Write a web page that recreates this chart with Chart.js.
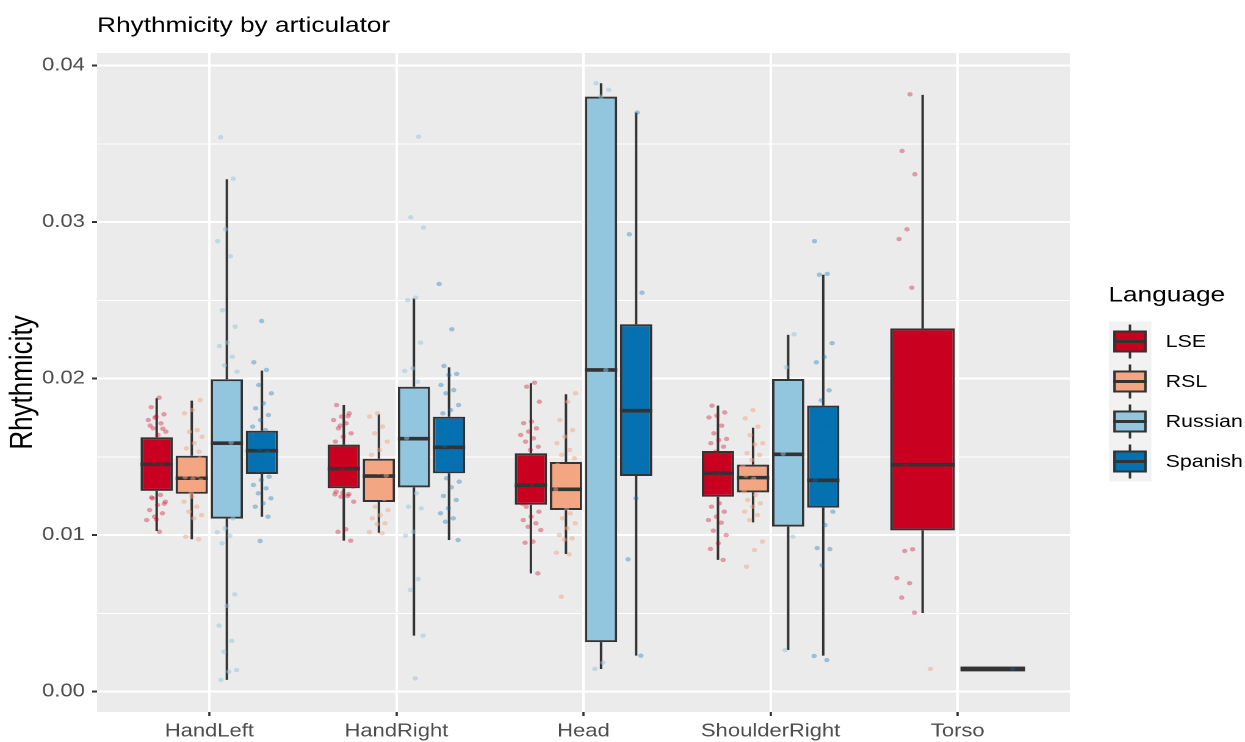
<!DOCTYPE html>
<html>
<head>
<meta charset="utf-8">
<script src="https://cdn.jsdelivr.net/npm/chart.js@4.4.1/dist/chart.umd.min.js"></script>
<style>
  html, body { margin: 0; padding: 0; background: #ffffff; }
  #plot { display: block; }
</style>
</head>
<body>
<canvas id="plot" width="1020" height="742" style="width:1245px;height:742px"></canvas>
<script>
// Articulators on the x axis and the four sign/spoken languages
const categories = ['HandLeft', 'HandRight', 'Head', 'ShoulderRight', 'Torso'];
const languages = ['LSE', 'RSL', 'Russian', 'Spanish'];
const fillColors = ['#CA0020', '#F4A582', '#92C5DE', '#0571B0'];
const pointColors = ['rgba(202,0,32,0.35)', 'rgba(244,165,130,0.5)', 'rgba(146,197,222,0.5)', 'rgba(5,113,176,0.35)'];

// Box statistics, one row per language, one column per articulator
const lowerWhisker = [
  [0.01026, 0.00964, 0.00755, 0.00841, 0.00502],
  [0.00973, 0.01015, 0.00879, 0.01081, null],
  [0.00074, 0.00357, 0.00144, 0.00265, null],
  [0.01117, 0.00968, 0.00229, 0.00229, 0.00144]
];
const lowerQuartile = [
  [0.01282, 0.01299, 0.01194, 0.01245, 0.01030],
  [0.01264, 0.01211, 0.01160, 0.01273, null],
  [0.01105, 0.01305, 0.00316, 0.01054, null],
  [0.01390, 0.01395, 0.01377, 0.01175, 0.00144]
];
const medians = [
  [0.01452, 0.01424, 0.01318, 0.01395, 0.01450],
  [0.01363, 0.01377, 0.01292, 0.01367, null],
  [0.01587, 0.01616, 0.02055, 0.01516, null],
  [0.01539, 0.01561, 0.01795, 0.01350, 0.00144]
];
const upperQuartile = [
  [0.01625, 0.01578, 0.01523, 0.01537, 0.02321],
  [0.01507, 0.01488, 0.01467, 0.01450, null],
  [0.01996, 0.01948, 0.03802, 0.01997, null],
  [0.01667, 0.01756, 0.02347, 0.01827, 0.00144]
];
const upperWhisker = [
  [0.01874, 0.01831, 0.01970, 0.01827, 0.03813],
  [0.01859, 0.01772, 0.01900, 0.01686, null],
  [0.03274, 0.02513, 0.03888, 0.02279, null],
  [0.02051, 0.02072, 0.03700, 0.02664, 0.00144]
];

// Individual observations (jittered dots), per articulator
const lsePoints = [
  [0.01878,0.01817,0.01772,0.01757,0.01735,0.01714,0.01682,0.01661,0.0164,0.0170,0.0168,0.0175,
   0.0130,0.0133,0.0136,0.0139,0.0141,0.0143,0.0145,0.0146,0.0148,0.0150,0.0152,0.0155,0.0158,0.0160,
   0.01256,0.01235,0.01213,0.01192,0.0116,0.01139,0.01117,0.01096,0.01021,0.0124,0.0120,0.0110],
  [0.01831,0.01778,0.01757,0.01735,0.01714,0.01682,0.0165,0.01629,0.01597,0.0176,0.0170,
   0.0131,0.0134,0.0137,0.0140,0.0142,0.0144,0.0146,0.0149,0.0152,0.0155,
   0.01277,0.01262,0.01245,0.01213,0.01037,0.01021,0.00964,0.0127,0.0126,0.0125],
  [0.01974,0.01948,0.01852,0.01725,0.01715,0.01682,0.01661,0.0164,0.01618,0.01597,0.01565,0.01544,
   0.0120,0.0123,0.0126,0.0129,0.0132,0.0135,0.0138,0.0141,0.0145,0.0149,
   0.01181,0.01149,0.01117,0.01096,0.01075,0.01053,0.01032,0.00958,0.00951,0.00755],
  [0.01827,0.01784,0.01763,0.01752,0.01699,0.0165,0.01614,0.01607,0.01587,0.01565,0.01533,
   0.0126,0.0129,0.0132,0.0135,0.0138,0.0141,0.0144,0.0147,0.0150,
   0.01203,0.01181,0.01149,0.01117,0.01096,0.01079,0.01028,0.0100,0.00947,0.00911,0.00841],
  [0.03817,0.03455,0.03306,0.02954,0.02892,0.02581,
   0.0110,0.0118,0.0125,0.0133,0.0140,0.0145,0.0150,0.0160,0.0175,0.0190,0.0205,0.0222,
   0.00909,0.00898,0.00725,0.00692,0.0060,0.00504]
];
const rslPoints = [
  [0.01863,0.01799,0.01778,0.01671,0.0166,0.01628,0.01587,0.01554,0.01533,
   0.0127,0.0129,0.0131,0.0133,0.0135,0.0136,0.0137,0.0138,0.0140,0.0142,0.0144,0.0146,0.0149,
   0.01245,0.01213,0.01181,0.01149,0.01128,0.01107,0.0099,0.00973],
  [0.01778,0.01757,0.01693,0.0165,0.01597,0.01544,0.01512,
   0.0123,0.0126,0.0129,0.0132,0.0135,0.0138,0.0140,0.0143,0.0146,
   0.01181,0.0116,0.01128,0.01107,0.01075,0.0107,0.01018,0.01011],
  [0.01906,0.01852,0.01735,0.01671,0.01629,0.01587,0.01544,0.01512,0.01491,
   0.0117,0.0120,0.0123,0.0126,0.0129,0.0132,0.0135,0.0138,0.0142,0.0145,
   0.01139,0.01107,0.01075,0.01043,0.0100,0.00979,0.0097,0.00887,0.00877,0.00606],
  [0.01799,0.01746,0.01693,0.01638,0.01587,0.0158,0.01523,0.01512,0.0148,
   0.0128,0.0130,0.0132,0.0134,0.0136,0.0138,0.0140,0.0142,0.0144,
   0.01256,0.01224,0.01203,0.01181,0.01149,0.01128,0.01096,0.00958,0.00904,0.00798],
  [0.00144]
];
const russianPoints = [
  [0.03542,0.03278,0.02954,0.02878,0.02782,0.02437,0.02332,0.0223,0.02208,0.0214,0.02085,0.02044,
   0.0115,0.0125,0.0135,0.0145,0.0155,0.0159,0.0165,0.0175,0.0185,0.0195,
   0.01107,0.01043,0.01018,0.00996,0.00947,0.00621,0.00548,0.00421,0.00323,0.00254,0.00137,0.00127,0.00074],
  [0.03546,0.03031,0.02965,0.02517,0.02502,0.0223,0.02066,0.02049,0.0198,
   0.0135,0.0145,0.0155,0.0162,0.0170,0.0180,0.0190,
   0.01267,0.01181,0.01171,0.01021,0.00996,0.00719,0.00649,0.00357,0.00084],
  [0.03888,0.03845,0.03802,0.0300,0.02055,0.0100,0.0060,0.00184,0.00144],
  [0.02283,0.02072,0.0175,0.0160,0.0152,0.0140,0.0125,0.0110,0.0099,0.00265],
  []
];
const spanishPoints = [
  [0.02368,0.02104,0.02055,0.01959,0.01906,0.01842,0.0181,0.01767,0.01735,0.01693,0.01671,
   0.0141,0.0145,0.0148,0.0151,0.0153,0.0155,0.0158,0.0161,0.0164,
   0.01373,0.01352,0.0132,0.01299,0.01267,0.01235,0.01203,0.01181,0.01117,0.00962],
  [0.02605,0.02315,0.02081,0.0203,0.02023,0.01959,0.01927,0.01906,0.01831,0.01799,0.01778,
   0.0143,0.0147,0.0150,0.0154,0.0157,0.0160,0.0164,0.0168,0.0172,
   0.01363,0.01341,0.01305,0.0125,0.01224,0.01171,0.01139,0.01107,0.01085,0.00968],
  [0.0370,0.02922,0.02549,0.0230,0.0215,0.0190,0.0170,0.0150,0.01235,0.00845,0.00229],
  [0.02878,0.02669,0.02664,0.02226,0.02138,0.02104,0.01925,0.01861,0.0180,0.0170,0.0160,0.0150,
   0.0140,0.0135,0.0128,0.0120,0.01149,0.01064,0.00917,0.0091,0.00807,0.00227,0.00201],
  [0.00144]
];
const pointsByLanguage = [lsePoints, rslPoints, russianPoints, spanishPoints];

// Axis breaks
const yBreaks = [0, 0.01, 0.02, 0.03, 0.04];
const yLabels = ['0.00', '0.01', '0.02', '0.03', '0.04'];
const yMinorBreaks = [0.005, 0.015, 0.025, 0.035];

const fontFamily = '"Liberation Sans", Arial, Helvetica, sans-serif';
Chart.defaults.font.family = fontFamily;

const INK = '#333333';
const DODGE_SLOT = 0.75 / languages.length;   // width of one dodged slot in category units

// grey panel behind the grid
const panelBackground = {
  id: 'panelBackground',
  beforeDraw(chart) {
    const { ctx, chartArea: a } = chart;
    ctx.save();
    ctx.fillStyle = '#EBEBEB';
    ctx.fillRect(a.left, a.top, a.right - a.left, a.bottom - a.top);
    ctx.restore();
  }
};

// whiskers under the boxes, medians and jittered dots over them
const boxDecorations = {
  id: 'boxDecorations',
  beforeDatasetsDraw(chart) {
    const { ctx } = chart;
    const y = chart.scales.y;
    ctx.save();
    ctx.strokeStyle = INK;
    ctx.lineWidth = 2;
    ctx.lineCap = 'butt';
    languages.forEach((lang, g) => {
      const meta = chart.getDatasetMeta(g);
      categories.forEach((cat, i) => {
        if (medians[g][i] == null) return;
        const { x } = meta.data[i].getProps(['x'], true);
        ctx.beginPath();
        ctx.moveTo(x, y.getPixelForValue(upperQuartile[g][i]));
        ctx.lineTo(x, y.getPixelForValue(upperWhisker[g][i]));
        ctx.moveTo(x, y.getPixelForValue(lowerQuartile[g][i]));
        ctx.lineTo(x, y.getPixelForValue(lowerWhisker[g][i]));
        ctx.stroke();
      });
    });
    ctx.restore();
  },
  afterDatasetsDraw(chart) {
    const { ctx } = chart;
    const xs = chart.scales.x;
    const y = chart.scales.y;
    ctx.save();
    // medians (a collapsed box also gets its outline drawn round the line)
    ctx.strokeStyle = INK;
    languages.forEach((lang, g) => {
      const meta = chart.getDatasetMeta(g);
      categories.forEach((cat, i) => {
        if (medians[g][i] == null) return;
        const { x, width } = meta.data[i].getProps(['x', 'width'], true);
        const py = y.getPixelForValue(medians[g][i]);
        ctx.lineWidth = 3.6;
        ctx.beginPath();
        ctx.moveTo(x - width / 2, py);
        ctx.lineTo(x + width / 2, py);
        ctx.stroke();
        if (lowerQuartile[g][i] === upperQuartile[g][i]) {
          ctx.lineWidth = 2;
          ctx.strokeRect(x - width / 2 + 1, py - 1.4, width - 2, 2.8);
        }
      });
    });
    // jittered observations, dodged into four slots per articulator
    languages.forEach((lang, g) => {
      ctx.fillStyle = pointColors[g];
      pointsByLanguage[g].forEach((vals, i) => {
        vals.forEach((v, k) => {
          const u = ((k + 1) * 0.6180339887 + g * 0.29 + i * 0.53) % 1;
          const xv = i + 1 + (g - (languages.length - 1) / 2) * DODGE_SLOT + (u - 0.5) * 0.11;
          ctx.beginPath();
          ctx.arc(xs.getPixelForValue(xv), y.getPixelForValue(v), 2.2, 0, Math.PI * 2);
          ctx.fill();
        });
      });
    });
    ctx.restore();
  }
};

// legend with small boxplot keys
const boxLegend = {
  id: 'boxLegend',
  afterDraw(chart) {
    const { ctx, chartArea: a } = chart;
    const bgLeft = a.right + 32;
    const keyH = 40;
    const firstCenter = 341.5;
    ctx.save();
    ctx.fillStyle = '#000000';
    ctx.font = '21.5px ' + fontFamily;
    ctx.textAlign = 'left';
    ctx.textBaseline = 'alphabetic';
    ctx.fillText('Language', bgLeft - 0.5, 301.7);

    ctx.fillStyle = '#F2F2F2';
    ctx.fillRect(bgLeft, firstCenter - keyH / 2, 34.7, keyH * languages.length);

    languages.forEach((lang, g) => {
      const cy = firstCenter + g * keyH;
      const bx = bgLeft + 3.5, bw = 27.3, cx = bx + bw / 2;
      ctx.strokeStyle = INK;
      ctx.lineWidth = 2;
      ctx.beginPath();
      ctx.moveTo(cx, cy - 17);
      ctx.lineTo(cx, cy + 17);
      ctx.stroke();
      ctx.fillStyle = fillColors[g];
      ctx.fillRect(bx, cy - 11, bw, 22);
      ctx.strokeRect(bx + 1, cy - 10, bw - 2, 20);
      ctx.lineWidth = 3;
      ctx.beginPath();
      ctx.moveTo(bx, cy);
      ctx.lineTo(bx + bw, cy);
      ctx.stroke();

      ctx.fillStyle = '#000000';
      ctx.font = '17.5px ' + fontFamily;
      ctx.textBaseline = 'middle';
      ctx.fillText(lang, bgLeft + 46.4, cy + 0.5);
    });
    ctx.restore();
  }
};

const datasets = languages.map((lang, g) => ({
  label: lang,
  data: categories.map((cat, i) => ({
    x: i + 1,
    y: lowerQuartile[g][i] == null ? null : [lowerQuartile[g][i], upperQuartile[g][i]]
  })),
  backgroundColor: fillColors[g],
  borderColor: INK,
  borderWidth: 2,
  borderSkipped: false,
  categoryPercentage: 0.75,
  barPercentage: 0.92,
  skipNull: true
}));

new Chart(document.getElementById('plot'), {
  type: 'bar',
  data: { datasets },
  plugins: [panelBackground, boxDecorations, boxLegend],
  options: {
    responsive: false,
    devicePixelRatio: 2,
    animation: false,
    events: [],
    layout: { padding: { left: 0, right: 143.4, top: 0, bottom: 0 } },
    plugins: {
      legend: { display: false },
      tooltip: { enabled: false },
      title: {
        display: true,
        text: 'Rhythmicity by articulator',
        align: 'start',
        fullSize: false,
        color: '#000000',
        font: { size: 21.5, weight: 'normal', family: fontFamily },
        padding: { top: 13.1, bottom: 14.1 }
      }
    },
    scales: {
      x: {
        type: 'linear',
        offset: false,
        min: 0.4,
        max: 5.6,
        afterBuildTicks(scale) {
          scale.ticks = categories.map((c, i) => ({ value: i + 1 }));
        },
        afterFit(scale) { scale.height = 30; },
        border: { display: false },
        grid: {
          offset: false,
          color: '#FFFFFF',
          lineWidth: 2,
          drawTicks: true,
          tickLength: 4,
          tickColor: INK,
          tickWidth: 1.8
        },
        ticks: {
          autoSkip: false,
          maxRotation: 0,
          padding: 4.5,
          color: '#4D4D4D',
          font: { size: 18 },
          callback: (v) => categories[Math.round(v) - 1] || ''
        }
      },
      y: {
        type: 'linear',
        min: -0.00131,
        max: 0.04081,
        afterBuildTicks(scale) {
          scale.ticks = yBreaks.concat(yMinorBreaks).sort((p, q) => p - q).map(v => ({ value: v }));
        },
        afterFit(scale) { scale.width = 79.5; },
        border: { display: false },
        grid: {
          color: '#FFFFFF',
          lineWidth: (c) => (yBreaks.includes(c.tick && c.tick.value) ? 2 : 1),
          drawTicks: true,
          tickLength: 4,
          tickColor: (c) => (yBreaks.includes(c.tick && c.tick.value) ? INK : 'rgba(0,0,0,0)'),
          tickWidth: 2
        },
        ticks: {
          autoSkip: false,
          padding: 6,
          color: '#4D4D4D',
          font: { size: 18 },
          callback: (v) => {
            const k = yBreaks.indexOf(v);
            return k >= 0 ? yLabels[k] : '';
          }
        },
        title: {
          display: true,
          text: 'Rhythmicity',
          color: '#000000',
          font: { size: 26, family: fontFamily },
          padding: { top: 3, bottom: 0 }
        }
      }
    }
  }
});
</script>
</body>
</html>
